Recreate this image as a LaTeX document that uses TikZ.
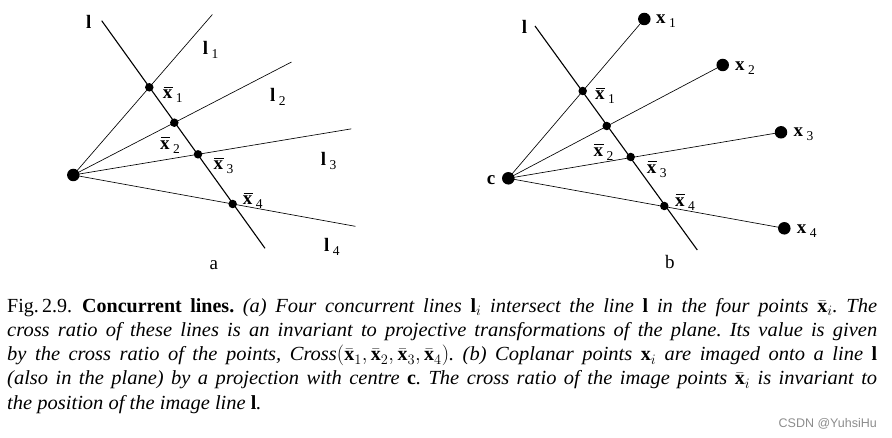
\documentclass[tikz,border=0pt]{standalone}
\usepackage{fontspec}
\setmainfont{Liberation Serif}[ItalicFeatures={FakeStretch=1.025}]
\newfontfamily\wmfont{Liberation Sans}
\usetikzlibrary{calc}
\newcommand{\lbfont}{\fontsize{19}{19}\selectfont}
\newcommand{\subfont}{\fontsize{13.5}{13.5}\selectfont}
\newcommand{\mysub}[1]{\hspace{3.5pt}\raisebox{-4pt}{\subfont #1}}
\newcommand{\myxbar}{\leavevmode\rlap{\hspace{0.6pt}\rule[11.3pt]{9.6pt}{1.1pt}}\textbf{x}}
\tikzset{
  thinline/.style={line width=0.65pt},
  mainline/.style={line width=1.1pt},
  sdot/.style={circle, fill=black, inner sep=0pt, minimum size=8.5pt},
  bdot/.style={circle, fill=black, inner sep=0pt, minimum size=12.5pt},
  lbl/.style={anchor=base west, inner sep=0pt, font=\lbfont},
}
\begin{document}
\begin{tikzpicture}[x=1pt,y=-1pt]
\useasboundingbox (0,0) rectangle (892,438);
% ---------- diagram a ----------
\coordinate (lA1) at (101.7,20.7);
\coordinate (lA2) at (265,248.3);
\node[bdot] (CA) at (73.3,175) {};
\node[sdot] (a1) at (149.3,87.3) {};
\node[sdot] (a2) at (174.3,122.7) {};
\node[sdot] (a3) at (198,154.3) {};
\node[sdot] (a4) at (232.7,204) {};
\coordinate (ea1) at ($(CA.center)!1.83!(a1.center)$);
\coordinate (ea2) at ($(CA.center)!2.16!(a2.center)$);
\coordinate (ea3) at ($(CA.center)!2.23!(a3.center)$);
\coordinate (ea4) at ($(CA.center)!1.77!(a4.center)$);
\draw[mainline] (lA1) -- (lA2);
\foreach \i in {1,2,3,4} \draw[thinline] (CA.center) -- (ea\i);
\node[lbl] (tla) at (86,28.3) {\textbf{l}};
\node[lbl] (tl1) at (202.7,55) {\textbf{l}\mysub{1}};
\node[lbl] (tl2) at (270,101.7) {\textbf{l}\mysub{2}};
\node[lbl] (tl3) at (320.7,166) {\textbf{l}\mysub{3}};
\node[lbl] (tl4) at (324,251.7) {\textbf{l}\mysub{4}};
\node[lbl] (ta1) at (162.7,99) {\myxbar\mysub{1}};
\node[lbl] (ta2) at (160,149.3) {\myxbar\mysub{2}};
\node[lbl] (ta3) at (213.3,170) {\myxbar\mysub{3}};
\node[lbl] (ta4) at (242.7,205) {\myxbar\mysub{4}};
\node[lbl] (capa) at (209.5,269.3) {a};
% ---------- diagram b ----------
\coordinate (lB1) at (535,26);
\coordinate (lB2) at (697.3,250);
\node[bdot] (CB) at (508.3,178.3) {};
\node[sdot] (b1) at (582.7,91) {};
\node[sdot] (b2) at (606.7,126) {};
\node[sdot] (b3) at (630.7,157) {};
\node[sdot] (b4) at (664.3,206) {};
\node[bdot] (x1) at (644.3,19) {};
\node[bdot] (x2) at (722.7,65) {};
\node[bdot] (x3) at (781,132.3) {};
\node[bdot] (x4) at (784.3,228.3) {};
\draw[mainline] (lB1) -- (lB2);
\foreach \i in {1,2,3,4} \draw[thinline] (CB.center) -- (x\i.center);
\node[lbl] (tlb) at (521.7,33.3) {\textbf{l}};
\node[lbl] (tc) at (486.7,184.3) {\textbf{c}};
\node[lbl] (tx1) at (656,24) {\textbf{x}\mysub{1}};
\node[lbl] (tx2) at (735,70.7) {\textbf{x}\mysub{2}};
\node[lbl] (tx3) at (793.3,136.7) {\textbf{x}\mysub{3}};
\node[lbl] (tx4) at (796.7,234) {\textbf{x}\mysub{4}};
\node[lbl] (tb1) at (595,100) {\myxbar\mysub{1}};
\node[lbl] (tb2) at (593.3,156.7) {\myxbar\mysub{2}};
\node[lbl] (tb3) at (646.7,173.3) {\myxbar\mysub{3}};
\node[lbl] (tb4) at (675,206.7) {\myxbar\mysub{4}};
\node[lbl] (capb) at (665,268.3) {b};
% ---------- caption ----------
\node[anchor=base west, inner sep=0pt] (caption) at (7,312.7) {%
\begin{minipage}[t]{870pt}
\fontsize{20}{24.1}\selectfont\frenchspacing
Fig.\,2.9.\enspace\textbf{Concurrent lines.} \textit{(a) Four concurrent lines $\mathbf{l}_i$ intersect the line $\mathbf{l}$ in the four points $\bar{\mathbf{x}}_i$. The\linebreak
cross ratio of these lines is an invariant to projective transformations of the plane. Its value is given\linebreak
by the cross ratio of the points, Cross$(\bar{\mathbf{x}}_1,\bar{\mathbf{x}}_2,\bar{\mathbf{x}}_3,\bar{\mathbf{x}}_4)$. (b) Coplanar points $\mathbf{x}_i$ are imaged onto a line $\mathbf{l}$\linebreak
(also in the plane) by a projection with centre $\mathbf{c}$. The cross ratio of the image points $\bar{\mathbf{x}}_i$ is invariant to\linebreak
the position of the image line $\mathbf{l}$.}
\end{minipage}};
\node[anchor=base east, inner sep=0pt, text=black!45, font=\wmfont\fontsize{12.5}{12.5}\selectfont] (wm) at (877,427.5) {CSDN @YuhsiHu};
\end{tikzpicture}
\end{document}
